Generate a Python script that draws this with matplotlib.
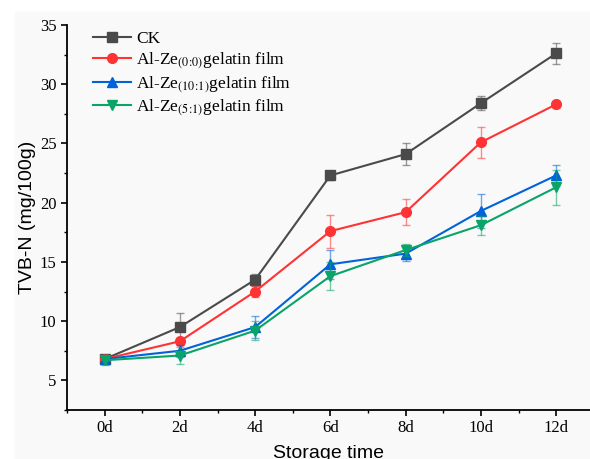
import numpy as np
import matplotlib.pyplot as plt
from matplotlib.patches import Rectangle

# storage days and TVB-N values (mg/100g)
days = [0, 2, 4, 6, 8, 10, 12]
day_labels = ['0d', '2d', '4d', '6d', '8d', '10d', '12d']

ck = [6.8, 9.5, 13.5, 22.3, 24.1, 28.4, 32.6]
ck_err = [0.3, 1.2, 0.5, 0.4, 0.9, 0.6, 0.9]

ze00 = [6.8, 8.3, 12.5, 17.6, 19.2, 25.1, 28.3]
ze00_err = [0.2, 0.3, 0.5, 1.4, 1.1, 1.3, 0.3]

ze101 = [6.8, 7.5, 9.5, 14.8, 15.7, 19.3, 22.3]
ze101_err = [0.3, 0.5, 0.9, 1.2, 0.6, 1.4, 0.9]

ze51 = [6.7, 7.1, 9.2, 13.8, 16.0, 18.1, 21.3]
ze51_err = [0.4, 0.7, 0.8, 1.2, 0.5, 0.8, 1.5]

plt.rcParams['mathtext.fontset'] = 'stix'

fig = plt.figure(figsize=(5.9, 4.59), dpi=100)
bg = '#f9f9f9'
fig.patches.append(Rectangle((15 / 590, 0), 1, (459 - 12) / 459,
                             transform=fig.transFigure, color=bg, zorder=-10))
ax = fig.add_axes([67 / 590, 49 / 459, 1 - 67 / 590, 385 / 459])
ax.set_facecolor(bg)

series = [
    (ck, ck_err, '#4a4a4a', 's', 'CK'),
    (ze00, ze00_err, '#ff3333', 'o', r'Al-Ze$_{\mathrm{(0\!:\!0)}}$gelatin film'),
    (ze101, ze101_err, '#0063d9', '^', r'Al-Ze$_{\mathrm{(10\!:\!1)}}$gelatin film'),
    (ze51, ze51_err, '#0aa468', 'v', r'Al-Ze$_{\mathrm{(5\!:\!1)}}$gelatin film'),
]

for vals, err, col, mk, lab in series:
    ax.errorbar(days, vals, yerr=err, fmt='none', ecolor=col, alpha=0.55,
                elinewidth=1, capsize=3, capthick=1)
    ax.plot(days, vals, color=col, marker=mk, markersize=7, linewidth=1.5, label=lab)

ax.set_xlim(-1, 12.9)
ax.set_ylim(2.5, 35)
ax.set_xticks(days)
ax.set_xticklabels(day_labels)
ax.set_xticks(range(-1, 13, 2), minor=True)
ax.set_yticks([5, 10, 15, 20, 25, 30, 35])
ax.set_yticks(np.arange(2.5, 35, 2.5), minor=True)

for s in ['top', 'right']:
    ax.spines[s].set_visible(False)
for s in ['left', 'bottom']:
    ax.spines[s].set_linewidth(1.3)

ax.tick_params(which='major', direction='out', length=4, width=1.2)
ax.tick_params(which='minor', direction='out', length=2.5, width=1)
for lbl in ax.get_xticklabels() + ax.get_yticklabels():
    lbl.set_fontfamily('Liberation Serif')
    lbl.set_fontsize(12)

ax.set_xlabel('Storage time', fontfamily='Liberation Sans', fontsize=14, labelpad=6)
ax.set_ylabel('TVB-N (mg/100g)', fontfamily='Liberation Sans', fontsize=14, labelpad=3)

ax.legend(loc='upper left', frameon=False, prop={'family': 'Liberation Serif', 'size': 12.5},
          handlelength=2.2, handletextpad=0.3, labelspacing=0.2,
          bbox_to_anchor=(0.02, 1.025))

fig.savefig('out.png', dpi=100)
